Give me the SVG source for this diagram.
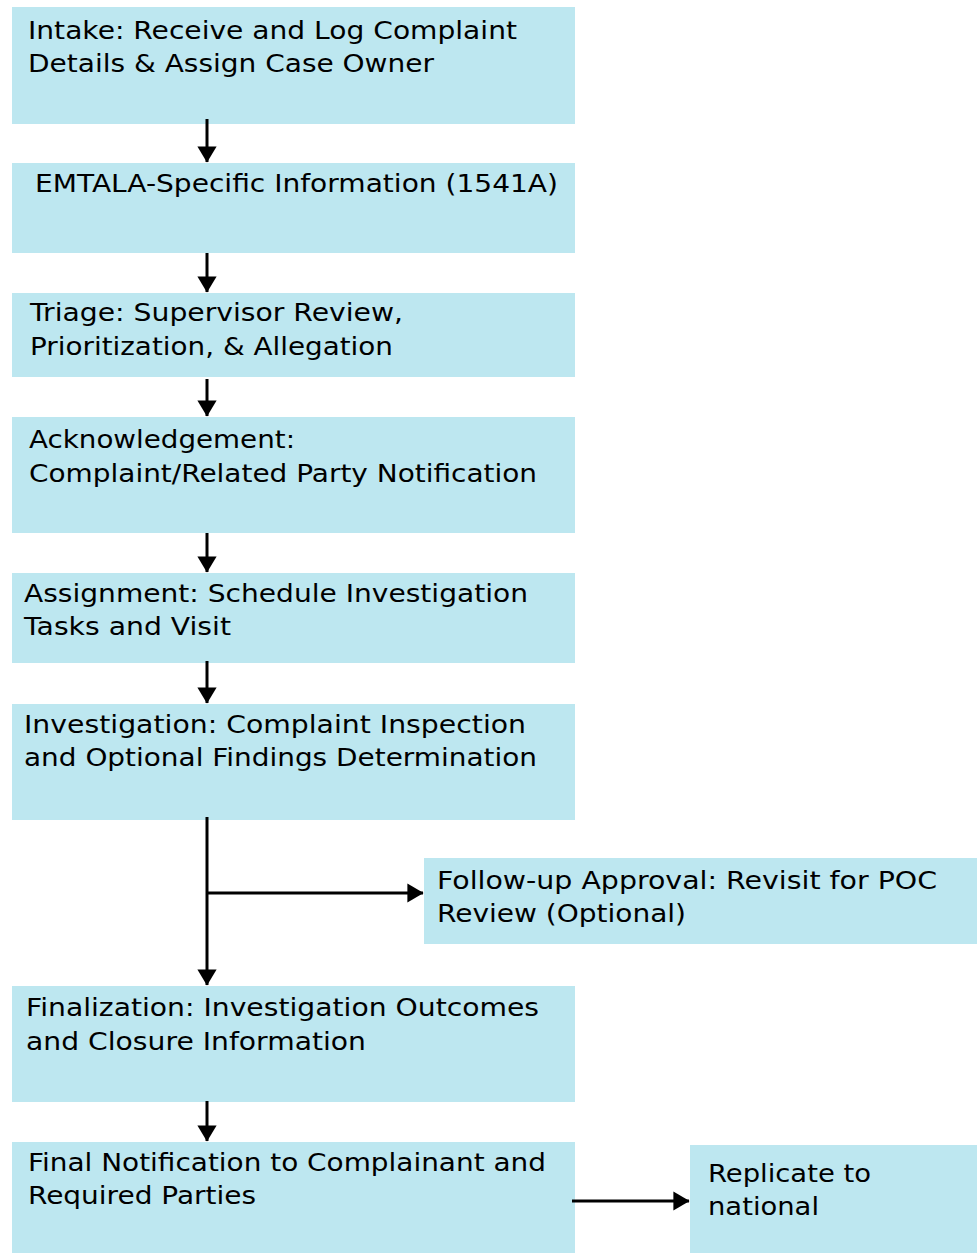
<svg xmlns="http://www.w3.org/2000/svg" width="977" height="1253" viewBox="0 0 977 1253">
<defs>
<style>
.box{fill:#bde7f0}
.t{font-family:"DejaVu Sans","Verdana",sans-serif;font-size:25px;fill:#000}
.c{stroke:#000;stroke-width:3;fill:none}
</style>
<marker id="ah" markerWidth="5.4" markerHeight="6.4" refX="5.2" refY="3.2" orient="auto" markerUnits="strokeWidth"><path d="M0,0 L5.4,3.2 L0,6.4 Z" fill="#000"/></marker>
</defs>
<rect width="977" height="1253" fill="#fff"/>
<g id="n1"><rect class="box" x="12" y="7" width="563" height="117"/><text class="t" x="28" y="39" textLength="489" lengthAdjust="spacingAndGlyphs">Intake: Receive and Log Complaint</text><text class="t" x="28" y="72" textLength="406" lengthAdjust="spacingAndGlyphs">Details &amp; Assign Case Owner</text></g>
<g id="n2"><rect class="box" x="12" y="163" width="563" height="90"/><text class="t" x="35" y="192" textLength="523" lengthAdjust="spacingAndGlyphs">EMTALA-Specific Information (1541A)</text></g>
<g id="n3"><rect class="box" x="12" y="293" width="563" height="84"/><text class="t" x="30" y="321" textLength="373" lengthAdjust="spacingAndGlyphs">Triage: Supervisor Review,</text><text class="t" x="30" y="355" textLength="363" lengthAdjust="spacingAndGlyphs">Prioritization, &amp; Allegation</text></g>
<g id="n4"><rect class="box" x="12" y="417" width="563" height="116"/><text class="t" x="29" y="448" textLength="266" lengthAdjust="spacingAndGlyphs">Acknowledgement:</text><text class="t" x="29" y="482" textLength="508" lengthAdjust="spacingAndGlyphs">Complaint/Related Party Notification</text></g>
<g id="n5"><rect class="box" x="12" y="573" width="563" height="90"/><text class="t" x="24" y="602" textLength="504" lengthAdjust="spacingAndGlyphs">Assignment: Schedule Investigation</text><text class="t" x="24" y="635" textLength="207" lengthAdjust="spacingAndGlyphs">Tasks and Visit</text></g>
<g id="n6"><rect class="box" x="12" y="704" width="563" height="116"/><text class="t" x="24" y="733" textLength="502" lengthAdjust="spacingAndGlyphs">Investigation: Complaint Inspection</text><text class="t" x="24" y="766" textLength="513" lengthAdjust="spacingAndGlyphs">and Optional Findings Determination</text></g>
<g id="n7"><rect class="box" x="424" y="858" width="553" height="86"/><text class="t" x="437" y="889" textLength="500" lengthAdjust="spacingAndGlyphs">Follow-up Approval: Revisit for POC</text><text class="t" x="437" y="922" textLength="249" lengthAdjust="spacingAndGlyphs">Review (Optional)</text></g>
<g id="n8"><rect class="box" x="12" y="986" width="563" height="116"/><text class="t" x="26" y="1016" textLength="513" lengthAdjust="spacingAndGlyphs">Finalization: Investigation Outcomes</text><text class="t" x="26" y="1050" textLength="340" lengthAdjust="spacingAndGlyphs">and Closure Information</text></g>
<g id="n9"><rect class="box" x="12" y="1142" width="563" height="111"/><text class="t" x="28" y="1171" textLength="518" lengthAdjust="spacingAndGlyphs">Final Notification to Complainant and</text><text class="t" x="28" y="1204" textLength="228" lengthAdjust="spacingAndGlyphs">Required Parties</text></g>
<g id="n10"><rect class="box" x="690" y="1145" width="287" height="108"/><text class="t" x="708" y="1182" textLength="163" lengthAdjust="spacingAndGlyphs">Replicate to</text><text class="t" x="708" y="1215" textLength="111" lengthAdjust="spacingAndGlyphs">national</text></g>
<g id="connectors">
<line class="c" x1="207" y1="119" x2="207" y2="162" marker-end="url(#ah)"/>
<line class="c" x1="207" y1="253" x2="207" y2="292" marker-end="url(#ah)"/>
<line class="c" x1="207" y1="379" x2="207" y2="416" marker-end="url(#ah)"/>
<line class="c" x1="207" y1="533" x2="207" y2="572" marker-end="url(#ah)"/>
<line class="c" x1="207" y1="661" x2="207" y2="703" marker-end="url(#ah)"/>
<line class="c" x1="207" y1="817" x2="207" y2="985" marker-end="url(#ah)"/>
<line class="c" x1="207" y1="893" x2="423" y2="893" marker-end="url(#ah)"/>
<line class="c" x1="207" y1="1101" x2="207" y2="1141" marker-end="url(#ah)"/>
<line class="c" x1="572" y1="1201" x2="689" y2="1201" marker-end="url(#ah)"/>
</g>
</svg>
